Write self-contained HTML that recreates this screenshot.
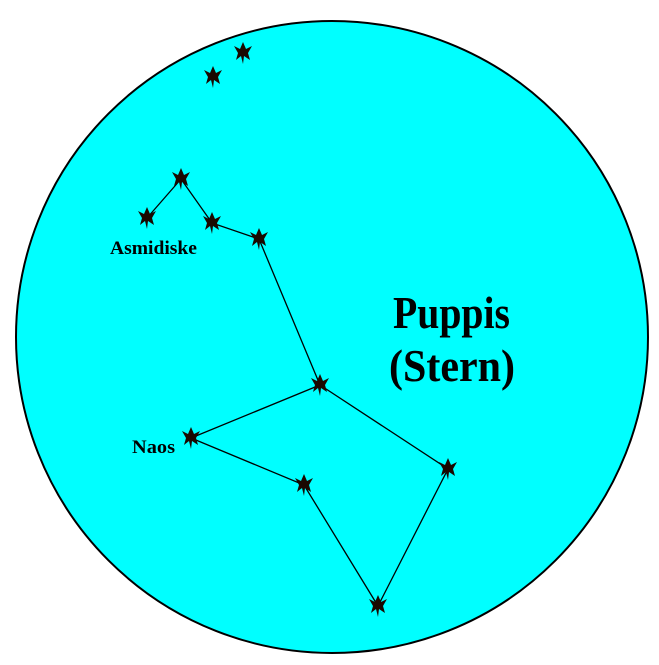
<!DOCTYPE html>
<html><head><style>html,body{margin:0;padding:0;background:#fff;}</style></head>
<body>
<svg width="659" height="660" viewBox="0 0 659 660" xmlns="http://www.w3.org/2000/svg">
<defs>
<polygon id="s" points="0,-11 3,-4 9,-7 5,0 7,7 1,3 0,11 -2,3 -7,7 -5,0 -9,-7 -3,-4" fill="#1a0800"/>
</defs>
<circle cx="332" cy="337" r="316" fill="#00ffff" stroke="#000" stroke-width="2"/>
<g stroke="#000" stroke-width="1.3" fill="none">
<polyline points="147,218 181,179 212,223 259,239 320,385 191,438 304,485 378,606 448,469 320,385"/>
</g>
<use href="#s" x="243" y="53"/>
<use href="#s" x="213" y="77"/>
<use href="#s" x="181" y="179"/>
<use href="#s" x="147" y="218"/>
<use href="#s" x="212" y="223"/>
<use href="#s" x="259" y="239"/>
<use href="#s" x="320" y="385"/>
<use href="#s" x="191" y="438"/>
<use href="#s" x="304" y="485"/>
<use href="#s" x="448" y="469"/>
<use href="#s" x="378" y="606"/>
<g font-family="Liberation Serif, serif" font-weight="bold" fill="#000">
<text x="110" y="254" font-size="19" textLength="87" lengthAdjust="spacingAndGlyphs">Asmidiske</text>
<text x="132" y="453" font-size="19" textLength="43" lengthAdjust="spacingAndGlyphs">Naos</text>
<text x="393" y="328" font-size="46" textLength="117" lengthAdjust="spacingAndGlyphs">Puppis</text>
<text x="389" y="381" font-size="46" textLength="126" lengthAdjust="spacingAndGlyphs">(Stern)</text>
</g>
</svg>
</body></html>
